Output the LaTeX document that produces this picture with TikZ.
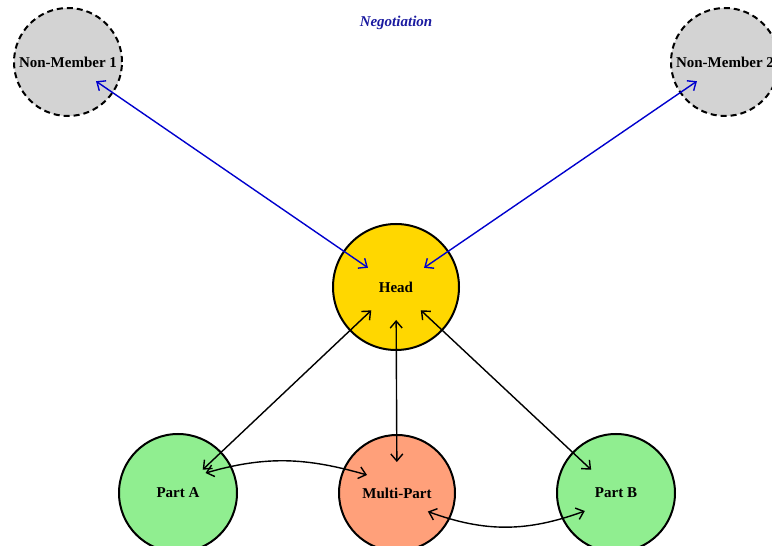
\documentclass[tikz,border=0pt]{standalone}
\usepackage{fontspec}
\setmainfont{Liberation Serif}
\usetikzlibrary{arrows.meta,calc}

\definecolor{gold}{RGB}{255,215,0}
\definecolor{lgreen}{RGB}{144,238,144}
\definecolor{lsalmon}{RGB}{255,160,122}
\definecolor{lgray}{RGB}{211,211,211}
\definecolor{negblue}{RGB}{0,0,205}
\definecolor{labelblue}{RGB}{26,26,160}

\tikzset{
  party/.style={circle, draw=black, line width=2pt, inner sep=0pt,
    minimum size=#1, font=\fontsize{15}{18}\selectfont\bfseries},
  outsider/.style={party=108pt, fill=lgray, dashed, dash pattern=on 6pt off 4pt},
  link/.style={line width=1.4pt, {Straight Barb[length=7pt,width=12pt]}-{Straight Barb[length=7pt,width=12pt]}},
  internal/.style={link, draw=black},
  external/.style={link, draw=negblue},
  trimmed/.style={shorten <=34pt, shorten >=34pt}
}

\begin{document}
\begin{tikzpicture}[x=1pt,y=1pt]
  \useasboundingbox (0,0) rectangle (772,546);
  \clip (0,0) rectangle (772,546);

  % parties
  \node[outsider] (nm1) at (68,484) {Non-Member 1};
  \node[outsider] (nm2) at (725,484) {Non-Member 2};
  \node[party=126pt, fill=gold] (head) at (396,259) {Head};
  \node[party=118pt, fill=lgreen] (pa) at (178,53) {Part A};
  \node[party=116pt, fill=lsalmon] (mp) at (397,53) {Multi-Part};
  \node[party=118pt, fill=lgreen] (pb) at (616,53) {Part B};

  % caption
  \node[text=labelblue, font=\fontsize{15}{18}\selectfont\bfseries\itshape] (cap) at (396,523) {Negotiation};

  % negotiation with non-members
  \draw[external, trimmed] (nm1.center) -- (head.center);
  \draw[external, trimmed] (nm2.center) -- (head.center);

  % internal links
  \draw[internal, trimmed] (head.center) -- (pa.center);
  \draw[internal, shorten <=33pt, shorten >=31pt] (head.center) -- (mp.center);
  \draw[internal, trimmed] (head.center) -- (pb.center);

  % links between parts
  \draw[internal] ($(pa.center)+(36:34)$) to[out=16, in=164] ($(mp.center)+(149:35)$);
  \draw[internal] ($(mp.center)+(-31:36)$) to[out=-20, in=-160] ($(pb.center)+(210:36)$);
\end{tikzpicture}
\end{document}
